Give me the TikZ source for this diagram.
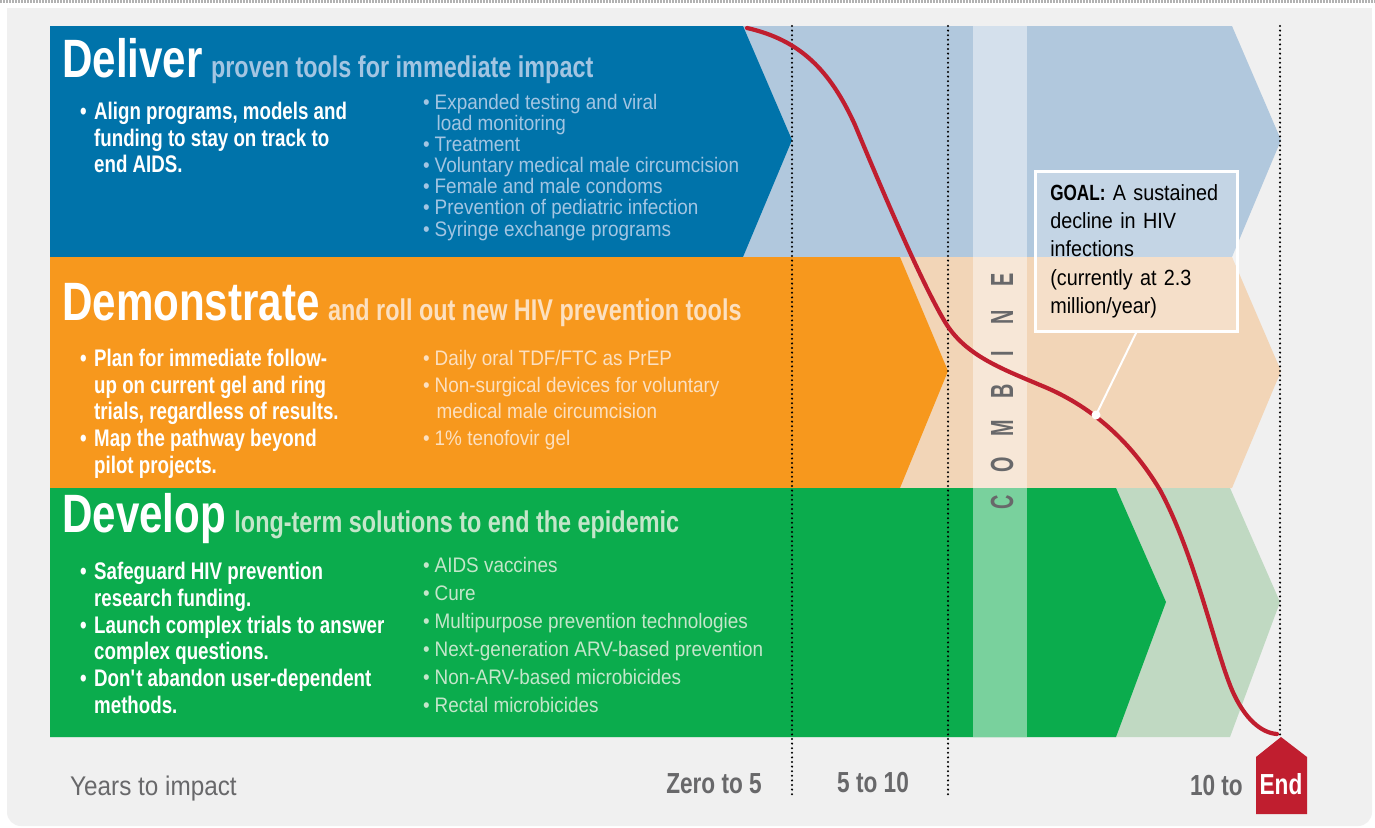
\documentclass[tikz,border=0pt]{standalone}
\usepackage{fontspec}
\setmainfont{Liberation Sans}[FakeStretch=0.9]
\newfontfamily\bcond{Liberation Sans}[FakeStretch=0.78]
\newfontfamily\ccond{Liberation Sans}[FakeStretch=0.62]
\usepackage{tikz}
\usetikzlibrary{positioning}
\usepackage{xcolor}
\definecolor{bggray}{RGB}{240,240,240}
\definecolor{dblue}{RGB}{0,115,170}
\definecolor{lblue}{RGB}{177,200,221}
\definecolor{tblue}{RGB}{163,197,226}
\definecolor{dorange}{RGB}{247,152,29}
\definecolor{lorange}{RGB}{242,213,183}
\definecolor{torange}{RGB}{252,224,192}
\definecolor{dgreen}{RGB}{11,172,77}
\definecolor{lgreen}{RGB}{192,217,194}
\definecolor{tgreen}{RGB}{196,230,202}
\definecolor{lblgray}{RGB}{104,104,106}
\definecolor{endred}{RGB}{192,30,47}
\newcommand{\itm}[1][14pt]{\makebox[#1][l]{\textbullet}}
\newcommand{\itmgap}[1][14pt]{\hspace*{#1}}
\newcommand{\cmbl}[1]{\makebox[37pt]{#1}}
\tikzstyle{bigword}=[anchor=base west, inner sep=0pt, text=white, font=\bcond\bfseries\fontsize{54}{54}\selectfont]
\tikzstyle{subline}=[inner sep=0pt, font=\bcond\bfseries\fontsize{30}{30}\selectfont]
\tikzstyle{leftlist}=[anchor=north west, inner sep=0pt, align=left, text=white, font=\bcond\bfseries\fontsize{24}{26.7}\selectfont]
\tikzstyle{rightlist}=[anchor=north west, inner sep=0pt, align=left, font=\fontsize{21}{21.1}\selectfont]
\tikzstyle{guide}=[black, line width=2.3pt, dash pattern=on 0pt off 4.6pt, line cap=round]
\tikzstyle{decline}=[endred, line width=4.2pt, line cap=round]
\tikzstyle{years}=[inner sep=0pt, text=lblgray, font=\bcond\bfseries\fontsize{29}{29}\selectfont]
\tikzstyle{combword}=[rotate=90, inner sep=0pt, text=lblgray, font=\ccond\bfseries\fontsize{32}{32}\selectfont]
\tikzstyle{goalbox}=[anchor=north west, draw=white, line width=2.5pt, fill=white, fill opacity=0.25, text opacity=1, text=black, text width=172pt, inner xsep=15pt, inner ysep=0pt, minimum height=160pt, align=left, font=\fontsize{22}{28.3}\selectfont]
\begin{document}
\begin{tikzpicture}[x=1pt, y=-1pt]
\useasboundingbox (0,0) rectangle (1375,827);

% background
\fill[white] (0,0) rectangle (1375,827);
\fill[bggray, rounded corners=14pt] (7,826) rectangle (1372,8);
\fill[bggray] (7,8) rectangle (1372,40);
\draw[gray!60, line width=2.5pt, dash pattern=on 2pt off 1pt] (0,1.5) -- (1375,1.5);

% deliver
\fill[lblue] (50,26) -- (1232,26) -- (1281,140) -- (1232,257) -- (50,257) -- cycle;
\fill[dblue] (50,26) -- (743,26) -- (792,140) -- (743,257) -- (50,257) -- cycle;
\node[bigword] (deliver) at (62,77) {Deliver};
\node[subline, text=tblue, right=8pt of deliver.base east, anchor=base west] (deliversub) {proven tools for immediate impact};
\node[leftlist] (deliverl) at (80,102) {\itm Align programs, models and\\ \itmgap funding to stay on track to\\ \itmgap end AIDS.};
\node[rightlist, text=tblue] (deliverr) at (423,94) {\itm[11.5pt]Expanded testing and viral\\ \itmgap[13.5pt]load monitoring\\ \itm[11.5pt]Treatment\\ \itm[11.5pt]Voluntary medical male circumcision\\ \itm[11.5pt]Female and male condoms\\ \itm[11.5pt]Prevention of pediatric infection\\ \itm[11.5pt]Syringe exchange programs};

% demonstrate
\fill[lorange] (50,257) -- (1232,257) -- (1281,371) -- (1232,488) -- (50,488) -- cycle;
\fill[dorange] (50,257) -- (900,257) -- (948,371) -- (900,488) -- (50,488) -- cycle;
\node[bigword] (demonstrate) at (62,320) {Demonstrate};
\node[subline, text=torange, right=8pt of demonstrate.base east, anchor=base west] (demonstratesub) {and roll out new HIV prevention tools};
\node[leftlist] (demonstratel) at (80,349) {\itm Plan for immediate follow-\\ \itmgap up on current gel and ring\\ \itmgap trials, regardless of results.\\ \itm Map the pathway beyond\\ \itmgap pilot projects.};
\node[rightlist, text=torange, font=\fontsize{21}{26.7}\selectfont] (demonstrater) at (423,350) {\itm[11.5pt]Daily oral TDF/FTC as PrEP\\ \itm[11.5pt]Non-surgical devices for voluntary\\ \itmgap[13.5pt]medical male circumcision\\ \itm[11.5pt]1\% tenofovir gel};

% develop
\fill[lgreen] (50,488) -- (1230,488) -- (1280,602) -- (1230,737) -- (50,737) -- cycle;
\fill[dgreen] (50,488) -- (1116,488) -- (1166,602) -- (1116,737) -- (50,737) -- cycle;
\node[bigword] (develop) at (62,532) {Develop};
\node[subline, text=tgreen, right=8pt of develop.base east, anchor=base west] (developsub) {long-term solutions to end the epidemic};
\node[leftlist] (developl) at (80,562) {\itm Safeguard HIV prevention\\ \itmgap research funding.\\ \itm Launch complex trials to answer\\ \itmgap complex questions.\\ \itm Don\textquotesingle t abandon user-dependent\\ \itmgap methods.};
\node[rightlist, text=tgreen, font=\fontsize{21}{28}\selectfont] (developr) at (423,557) {\itm[11.5pt]AIDS vaccines\\ \itm[11.5pt]Cure\\ \itm[11.5pt]Multipurpose prevention technologies\\ \itm[11.5pt]Next-generation ARV-based prevention\\ \itm[11.5pt]Non-ARV-based microbicides\\ \itm[11.5pt]Rectal microbicides};

% combine
\fill[white, opacity=0.45] (973,26) rectangle (1027,737);
\node[combword] (combine) at (1002,391) {\cmbl{C}\cmbl{O}\cmbl{M}\cmbl{B}\cmbl{I}\cmbl{N}\cmbl{E}};

% years
\draw[guide] (792,26) -- (792,795);
\draw[guide] (948,26) -- (948,795);
\draw[guide] (1280,26) -- (1280,737);
\node[years, font=\fontsize{27}{27}\selectfont, anchor=base west] (yearslbl) at (70,795) {Years to impact};
\node[years, anchor=base east] (zerolbl) at (762,793) {Zero to 5};
\node[years, anchor=base west] (fivelbl) at (837,792) {5 to 10};
\fill[endred] (1256,814) -- (1256,757) -- (1281,737) -- (1307,757) -- (1307,814) -- cycle;
\node[years, text=white, anchor=base] (endlbl) at (1281,794) {End};
\node[years, anchor=base east] (tenlbl) at (1243,795) {10 to};

% goal
\node[goalbox] (goal) at (1034,170) {{\bcond\bfseries GOAL:} A sustained\\decline in HIV\\infections\\(currently at 2.3\\million/year)};
\coordinate (gdot) at (1096,415);
\draw[white, line width=2pt] (goal.south) -- (gdot);
\draw[decline] (747,28) .. controls (800,40) and (830,70) .. (855,125)
  .. controls (880,185) and (920,280) .. (945,322)
  .. controls (965,355) and (1000,368) .. (1040,385)
  .. controls (1090,405) and (1130,440) .. (1160,490)
  .. controls (1195,555) and (1215,650) .. (1232,690)
  .. controls (1245,720) and (1262,733) .. (1277,734);
\fill[white] (gdot) circle (4.5pt);

\end{tikzpicture}
\end{document}
